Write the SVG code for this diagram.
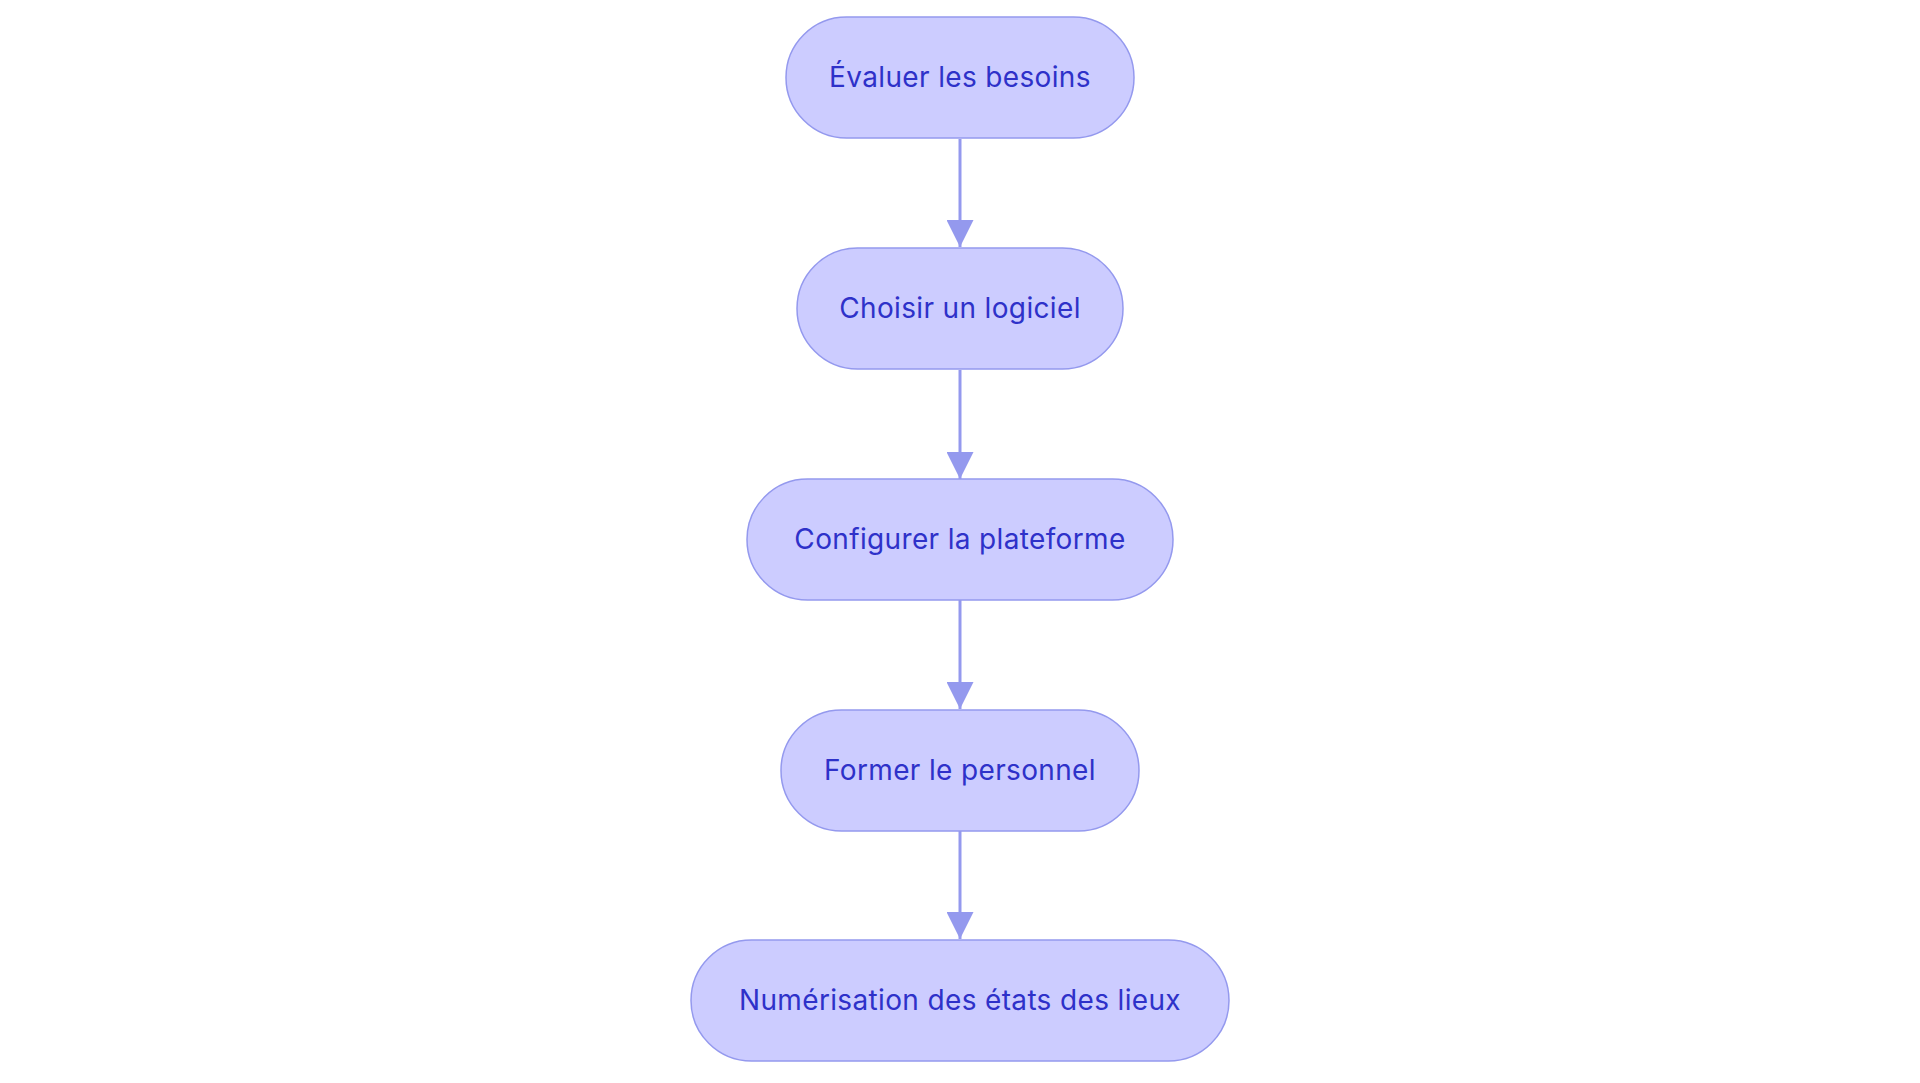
<svg xmlns="http://www.w3.org/2000/svg" width="1920" height="1083" viewBox="0 0 1920 1083">
<style>
.n rect{fill:#ccccff;stroke:#9499ee;stroke-width:1.5}
.n text{font-family:Inter,"Liberation Sans",sans-serif;font-size:28px;letter-spacing:0.35px;fill:#2e31c9;text-anchor:middle;dominant-baseline:central}
.e path{stroke:#9499ee;stroke-width:3;fill:none;marker-end:url(#a)}
</style>
<defs><marker id="a" viewBox="0 0 10 10" refX="10" refY="5" markerWidth="9" markerHeight="9" markerUnits="strokeWidth" orient="auto"><path d="M0,0L10,5L0,10z" fill="#9499ee"/></marker></defs>
<rect width="1920" height="1083" fill="#fff"/>
<g class="e">
<path d="M960,139V247"/><path d="M960,370V479"/><path d="M960,600V709"/><path d="M960,831V939"/>
</g>
<g id="n1" class="n"><rect x="786" y="17" width="348" height="121" rx="60.5"/><text x="960" y="77">Évaluer les besoins</text></g>
<g id="n2" class="n"><rect x="797" y="248" width="326" height="121" rx="60.5"/><text x="960" y="308">Choisir un logiciel</text></g>
<g id="n3" class="n"><rect x="747" y="479" width="426" height="121" rx="60.5"/><text x="960" y="539">Configurer la plateforme</text></g>
<g id="n4" class="n"><rect x="781" y="710" width="358" height="121" rx="60.5"/><text x="960" y="770">Former le personnel</text></g>
<g id="n5" class="n"><rect x="691" y="940" width="538" height="121" rx="60.5"/><text x="960" y="1000">Numérisation des états des lieux</text></g>
</svg>
